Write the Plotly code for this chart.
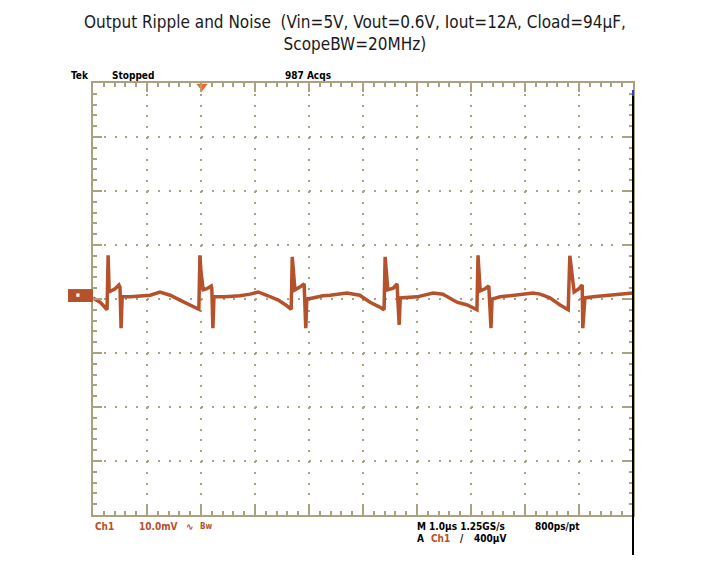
import plotly.graph_objects as go

# time in divisions (1 div = 1.0 us), voltage in mV (1 div = 10 mV)
t_us = [0.00, 0.07, 0.13, 0.20, 0.26, 0.28, 0.30, 0.33, 0.41, 0.48, 0.50, 0.52, 0.54,
        0.69, 0.87, 1.06, 1.24, 1.43, 1.61, 1.80, 1.96,
        1.98, 2.00, 2.04, 2.11, 2.19, 2.20, 2.22, 2.24,
        2.44, 2.72, 2.91, 3.06, 3.24, 3.43, 3.57, 3.67,
        3.69, 3.72, 3.74, 3.83, 3.91, 3.94, 3.96,
        3.98, 4.26, 4.39, 4.70, 4.94, 5.13, 5.31, 5.39,
        5.41, 5.43, 5.46, 5.56, 5.63, 5.67, 5.69,
        6.00, 6.30, 6.48, 6.74, 6.93, 7.11,
        7.13, 7.15, 7.17, 7.26, 7.33, 7.37, 7.39,
        7.54, 7.85, 8.15, 8.28, 8.46, 8.65, 8.80,
        8.83, 8.87, 8.91, 9.00, 9.06, 9.07, 9.11,
        9.26, 9.52, 9.76, 10.0]
v_mv = [0.2, -0.2, -0.6, -1.3, -2.0, 8.1, 1.3, 1.5, 1.9, 2.6, 2.2, -5.4, 0.4,
        0.4, 0.6, 0.7, 1.3, 0.7, -0.2, -1.1, -1.9,
        8.1, 5.0, 1.7, 1.9, 2.4, 2.0, -5.4, 0.4,
        0.4, 0.6, 0.9, 1.3, 0.6, -0.2, -1.1, -1.9,
        7.8, 4.4, 1.7, 2.2, 2.8, -5.4, 0.2,
        0.0, 0.6, 0.7, 1.1, 0.7, -0.6, -1.5, -2.0,
        7.8, 4.4, 1.7, 2.0, 2.8, -4.8, 0.2,
        0.4, 1.1, 0.9, -0.6, -1.1, -2.0,
        8.1, 5.4, 1.5, 1.9, 2.4, -5.4, 0.0,
        0.4, 0.7, 1.1, 0.9, 0.2, -1.1, -2.0,
        8.0, 4.4, 1.3, 1.9, 2.6, -5.4, 0.2,
        0.4, 0.6, 0.9, 1.1]

trigger_pos = 2.02
title_lines = ["Output Ripple and Noise  (Vin=5V, Vout=0.6V, Iout=12A, Cload=94µF,",
               "ScopeBW=20MHz)"]

TRACE = "#B5522B"
GRAT = "#AAA27E"
NARROW = "Liberation Sans Narrow, Arial Narrow, DejaVu Sans Condensed, sans-serif"

fig = go.Figure()
fig.add_trace(go.Scatter(x=t_us, y=v_mv, mode="lines",
                         line=dict(color=TRACE, width=3.5), hoverinfo="skip"))
# trigger position marker
fig.add_trace(go.Scatter(x=[trigger_pos], y=[39.4], mode="markers", cliponaxis=False,
                         marker=dict(symbol="triangle-down", size=10, color="#F06A2C"),
                         hoverinfo="skip"))

axis_common = dict(showticklabels=False, zeroline=False,
                   showgrid=True, gridcolor=GRAT, gridwidth=2, griddash="2px,8.8px",
                   showline=True, linecolor=GRAT, linewidth=2, mirror="ticks",
                   ticks="inside", ticklen=9, tickwidth=2, tickcolor=GRAT)
fig.update_xaxes(range=[0, 10], dtick=1, tick0=0,
                 minor=dict(dtick=0.2, ticks="inside", ticklen=4, tickwidth=2,
                            tickcolor=GRAT, showgrid=False),
                 **axis_common)
fig.update_yaxes(range=[-40, 40], dtick=10, tick0=0,
                 minor=dict(dtick=2, ticks="inside", ticklen=4, tickwidth=2,
                            tickcolor=GRAT, showgrid=False),
                 **axis_common)

# Ch1 ground marker, right edge line
fig.add_shape(type="rect", xref="paper", yref="paper", x0=-0.0463, x1=0, y0=0.493, y1=0.523,
              fillcolor=TRACE, line_width=0)
fig.add_shape(type="rect", xref="paper", yref="paper", x0=-0.031, x1=-0.025, y0=0.505, y1=0.513,
              fillcolor="white", line_width=0)
fig.add_shape(type="line", xref="paper", yref="paper", x0=1.0, x1=1.0, y0=0.984, y1=-0.0926,
              line=dict(color="black", width=2))
fig.add_shape(type="line", xref="paper", yref="paper", x0=1.0, x1=1.0, y0=0.984, y1=0.97,
              line=dict(color="#3040C0", width=2))

def label(txt, x, y, color="black", size=10):
    fig.add_annotation(text=txt, xref="paper", yref="paper", x=x, y=y,
                       xanchor="left", yanchor="middle", showarrow=False,
                       font=dict(family=NARROW, size=size, color=color))

label("<b>Tek</b>", -0.044, 1.0185)
label("<b>Stopped</b>", 0.031, 1.0185)
label("<b>987 Acqs</b>", 0.352, 1.0185)
label("<b>Ch1</b>", 0.0, -0.0255, TRACE)
label("<b>10.0mV</b>", 0.0815, -0.0255, TRACE)
label("<b>∿</b>", 0.168, -0.0255, TRACE)
label("<b>Bw</b>", 0.194, -0.0255, TRACE, 8)
label("<b>M 1.0µs 1.25GS/s</b>", 0.5963, -0.0255)
label("<b>800ps/pt</b>", 0.8148, -0.0255)
label("<b>A</b>", 0.5963, -0.055)
label("<b>Ch1</b>", 0.6222, -0.055, TRACE)
label("<b>/</b>", 0.6759, -0.055)
label("<b>400µV</b>", 0.7019, -0.055)

fig.add_annotation(text="<br>".join(title_lines), xref="paper", yref="paper",
                   x=0.485, y=1.116, xanchor="center", yanchor="middle", showarrow=False,
                   font=dict(family=NARROW, size=17, color="#1a1a1a"))

# page body has an 8px margin, so the figure is shrunk by that much
fig.update_layout(width=702, height=553, showlegend=False,
                  margin=dict(l=85, r=77, t=75, b=46),
                  paper_bgcolor="white", plot_bgcolor="white")

fig.write_html("out.html")
